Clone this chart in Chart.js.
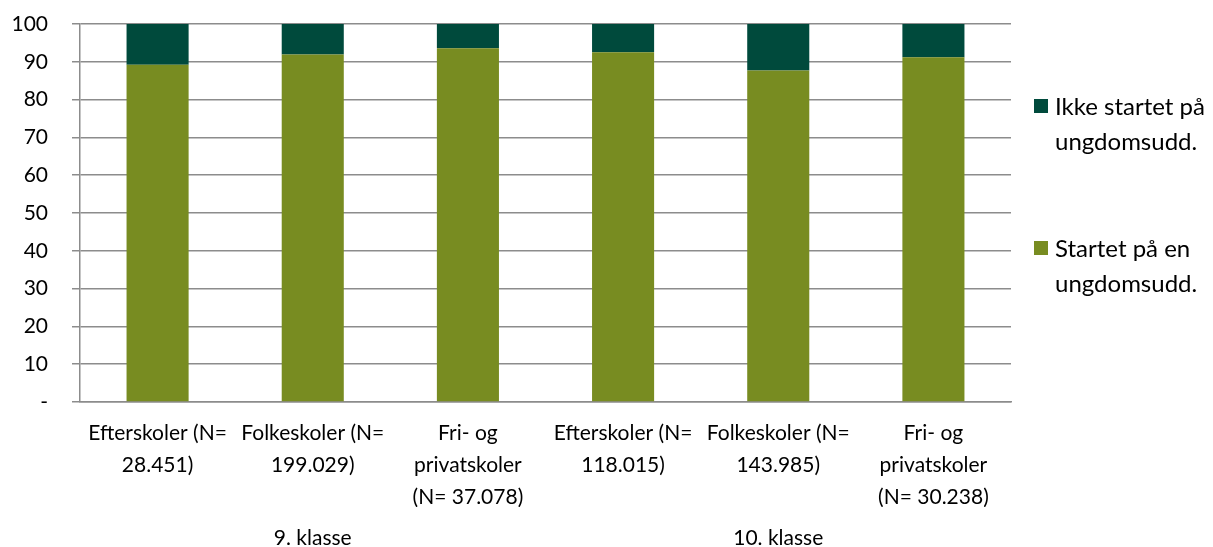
<!DOCTYPE html>
<html>
<head>
<meta charset="utf-8">
<script src="https://cdn.jsdelivr.net/npm/chart.js@4"></script>
<style>
  body { margin: 0; background: #fff; }
  #wrap { position: relative; width: 1213px; height: 547px; }
  #legend { position: absolute; left: 1034px; top: 0; font-family: Lato, sans-serif; font-size: 24px; line-height: 35px; color: #000; }
  .item { position: absolute; left: 0; white-space: nowrap; }
  .item span.box { position: absolute; left: 0; top: 11px; width: 14px; height: 14px; }
  .item div { margin-left: 21px; }
</style>
</head>
<body>
<div id="wrap">
  <canvas id="chart"></canvas>
  <div id="legend"></div>
</div>
<script>
const categories = [
  ['Efterskoler (N=', '28.451)'],
  ['Folkeskoler (N=', '199.029)'],
  ['Fri- og', 'privatskoler', '(N= 37.078)'],
  ['Efterskoler (N=', '118.015)'],
  ['Folkeskoler (N=', '143.985)'],
  ['Fri- og', 'privatskoler', '(N= 30.238)']
];
const groups = ['9. klasse', '10. klasse'];
const startet = [89.2, 91.9, 93.6, 92.5, 87.7, 91.2];
const ikkeStartet = [10.8, 8.1, 6.4, 7.5, 12.3, 8.8];
const seriesNames = ['Startet på en ungdomsudd.', 'Ikke startet på ungdomsudd.'];
const colors = ['#788c21', '#004a3c'];

const font = { family: 'Lato', size: 21, lineHeight: 32 / 21 };

new Chart(document.getElementById('chart'), {
  type: 'bar',
  data: {
    labels: categories,
    datasets: [
      { label: seriesNames[0], data: startet, backgroundColor: colors[0], borderWidth: 0 },
      { label: seriesNames[1], data: ikkeStartet, backgroundColor: colors[1], borderWidth: 0 }
    ]
  },
  options: {
    responsive: true,
    maintainAspectRatio: false,
    animation: false,
    layout: { padding: { top: 24, right: 202, left: 0, bottom: 0 } },
    datasets: { bar: { barPercentage: 0.4, categoryPercentage: 1 } },
    plugins: { legend: { display: false }, tooltip: { enabled: false } },
    scales: {
      x: {
        stacked: true,
        grid: { display: false, drawTicks: false },
        border: { display: true, color: '#8c8c8c', width: 1.5 },
        ticks: { color: '#000', font: font, padding: 15, autoSkip: false, maxRotation: 0 },
        afterFit: s => { s.height = 105; }
      },
      x2: {
        type: 'category',
        labels: groups,
        position: 'bottom',
        offset: true,
        grid: { display: false, drawTicks: false },
        border: { display: false },
        ticks: { color: '#000', font: font, padding: 15, maxRotation: 0 },
        afterFit: s => { s.height = 40; }
      },
      y: {
        stacked: true,
        min: 0,
        max: 100,
        ticks: {
          stepSize: 10,
          color: '#000',
          font: font,
          padding: 24,
          callback: v => v === 0 ? '-' : v
        },
        grid: { color: '#8c8c8c', lineWidth: 1.5, tickLength: 8 },
        border: { display: true, color: '#8c8c8c', width: 1.5 },
        afterFit: s => { s.width = 80; s.paddingTop = 0; s.paddingBottom = 0; }
      }
    }
  }
});

// legend drawn as HTML so the two-line labels stay real text
const legend = document.getElementById('legend');
const legendItems = [
  { name: ['Ikke startet på', 'ungdomsudd.'], color: colors[1], top: 88 },
  { name: ['Startet på en', 'ungdomsudd.'], color: colors[0], top: 230 }
];
legendItems.forEach(it => {
  const el = document.createElement('div');
  el.className = 'item';
  el.style.top = it.top + 'px';
  el.innerHTML = '<span class="box" style="background:' + it.color + '"></span><div>' + it.name.join('<br>') + '</div>';
  legend.appendChild(el);
});
</script>
</body>
</html>
